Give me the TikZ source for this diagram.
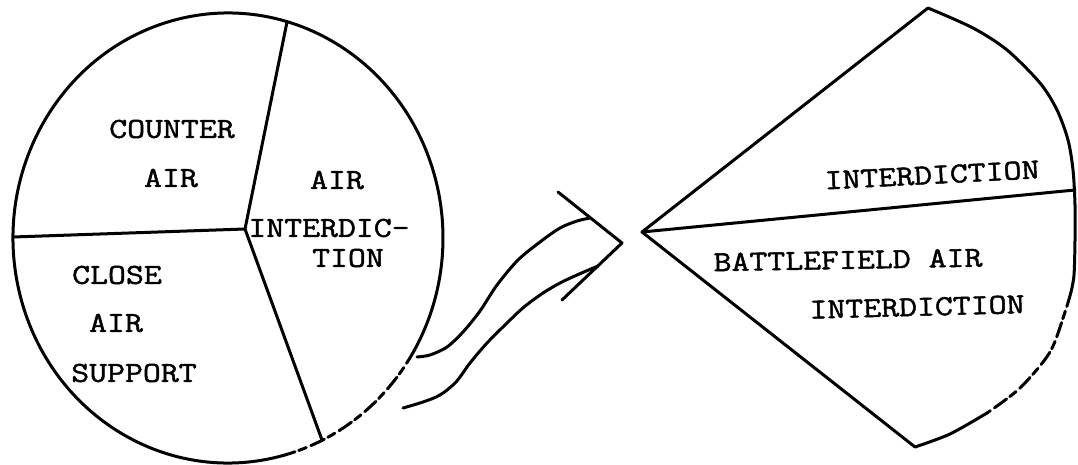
\documentclass[tikz,border=0pt]{standalone}
\usepackage{fontspec}
\newfontfamily\twfont{Latin Modern Mono}[FakeBold=1.6, FakeStretch=1.2]
\begin{document}
\begin{tikzpicture}[x=1pt,y=-1pt,
  ln/.style={line width=3pt, line cap=round, line join=round},
  brk/.style={ln, dash pattern=on 15pt off 5pt on 8pt off 4pt},
  lbl/.style={font=\twfont\fontsize{29}{35}\selectfont, inner sep=0pt, anchor=center}]
\useasboundingbox (0,0) rectangle (1078,465);
% left pie
\coordinate (cc) at (228,238);
\coordinate (hub) at (245,229);
\coordinate (ctop) at (287,22);
\coordinate (cleft) at (13,237);
\coordinate (cbot) at (322,440);
\draw[ln] (cc) ++(75:215 and 225) arc[start angle=75, end angle=390, x radius=215, y radius=225];
\draw[brk] (cc) ++(30:215 and 225) arc[start angle=30, end angle=75, x radius=215, y radius=225];
\draw[ln] (ctop) -- (hub) -- (cbot);
\draw[ln] (cleft) -- (hub);
\node[lbl] (t1) at (172,129) {COUNTER};
\node[lbl] (t2) at (171,178) {AIR};
\node[lbl] (t3) at (337,180) {AIR};
\node[lbl] (t4) at (329,228) {INTERDIC-};
\node[lbl] (t5) at (348,258) {TION};
\node[lbl] (t6) at (117,275) {CLOSE};
\node[lbl] (t7) at (116,323) {AIR};
\node[lbl] (t8) at (134,373) {SUPPORT};
% right wedge
\coordinate (apex) at (642,232);
\coordinate (wtop) at (928,8);
\coordinate (wmid) at (1075,190);
\coordinate (wbot) at (915,447);
\draw[ln] (wtop) -- (apex) -- (wbot);
\draw[ln] (apex) -- (wmid);
\draw[ln] plot[smooth] coordinates {(wtop) (973,28) (1007,50) (1040,83) (1057,110) (1068,140) (1073,170) (1075,205) (1075,240) (1074,275) (1071,292)};
\draw[brk] plot[smooth] coordinates {(1071,292) (1065,312) (1050,352) (1020,388) (987,413)};
\draw[ln] plot[smooth] coordinates {(987,413) (950,434) (wbot)};
\node[lbl, rotate=3] (r1) at (932,175) {INTERDICTION};
\node[lbl, rotate=1] (r2) at (848,260) {BATTLEFIELD AIR};
\node[lbl, rotate=1.5] (r3) at (917,307) {INTERDICTION};
% break symbol and connecting curves
\coordinate (vtop) at (558,192);
\coordinate (vtip) at (622,243);
\coordinate (vbot) at (562,300);
\coordinate (ua) at (417,357);
\coordinate (ub) at (590,218);
\coordinate (la) at (403,408);
\coordinate (lb) at (598,266);
\draw[ln] (vtop) -- (vtip) -- (vbot);
\draw[ln] plot[smooth] coordinates {(ua) (430,355) (447,347) (463,332) (480,311) (497,285) (518,260) (540,242) (560,228) (577,221) (ub)};
\draw[ln] plot[smooth] coordinates {(la) (423,402) (440,395) (456,382) (470,363) (487,343) (507,323) (524,307) (543,293) (560,283) (577,275) (lb)};
\end{tikzpicture}
\end{document}
